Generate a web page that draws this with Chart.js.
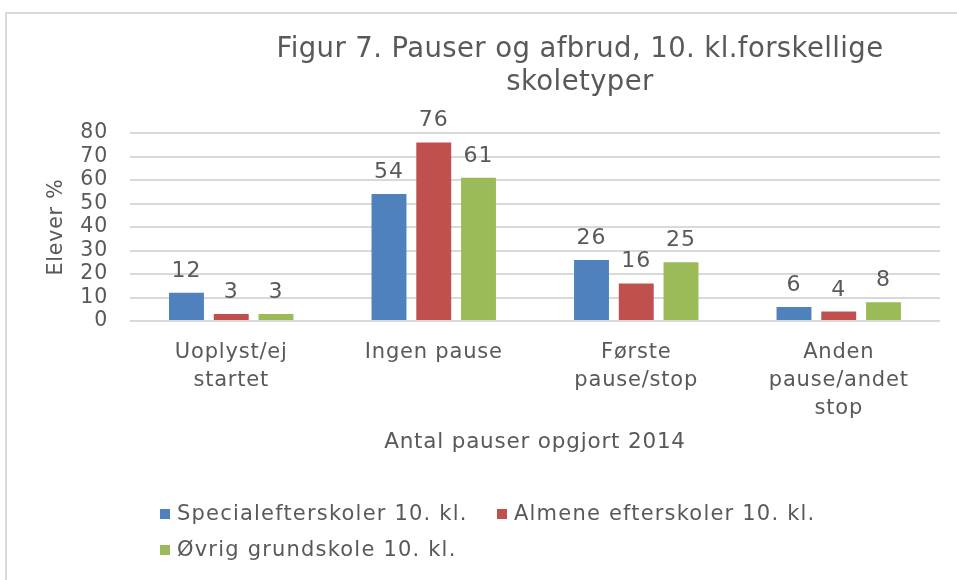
<!DOCTYPE html>
<html>
<head>
<meta charset="utf-8">
<script src="https://cdn.jsdelivr.net/npm/chart.js@4.4.1/dist/chart.umd.min.js"></script>
<style>
  html, body { margin: 0; padding: 0; background: #fff; overflow: hidden; }
  body { width: 957px; height: 580px; position: relative; font-family: "DejaVu Sans", sans-serif; color: #595959; }
  #frame { position: absolute; left: 5px; top: 12px; width: 1000px; height: 1000px; border: 2px solid #d9d9d9; box-sizing: border-box; }
  #wrap { position: absolute; left: 0; top: 0; width: 957px; height: 580px; }
  #title { position: absolute; left: 230px; width: 700px; top: 31px; text-align: center; font-size: 27.5px; line-height: 33px; letter-spacing: 0.4px; color: #595959; white-space: nowrap; }
  .leg { position: absolute; font-size: 21px; line-height: 24px; letter-spacing: 1.2px; color: #595959; white-space: nowrap; }
  .leg span.box { display: inline-block; width: 10px; height: 10px; margin-right: 7px; vertical-align: 1px; }
</style>
</head>
<body>
<div id="frame"></div>
<div id="wrap"><canvas id="c" width="957" height="580"></canvas></div>
<div id="title">Figur 7. Pauser og afbrud, 10. kl.forskellige<br>skoletyper</div>
<div id="legend"></div>
<script>
const categories = [["Uoplyst/ej", "startet"], "Ingen pause", ["Første", "pause/stop"], ["Anden", "pause/andet", "stop"]];
const seriesNames = ["Specialefterskoler 10. kl.", "Almene efterskoler 10. kl.", "Øvrig grundskole 10. kl."];
const specialValues = [12, 54, 26, 6];
const almeneValues = [3, 76, 16, 4];
const oevrigValues = [3, 61, 25, 8];
const seriesColors = ["#4f81bd", "#c0504d", "#9bbb59"];
const yTicks = [0, 10, 20, 30, 40, 50, 60, 70, 80];
const yTitle = "Elever %";
const xTitle = "Antal pauser opgjort 2014";

const seriesValues = [specialValues, almeneValues, oevrigValues];
const textColor = "#595959";
const fontFamily = '"DejaVu Sans", sans-serif';

const spacing = {
  id: 'spacing',
  beforeUpdate(chart) { chart.ctx.letterSpacing = '0.8px'; },
  beforeLayout(chart) { chart.ctx.letterSpacing = '0.8px'; },
  beforeDraw(chart) { chart.ctx.letterSpacing = '0.8px'; }
};

const dataLabels = {
  id: 'dataLabels',
  afterDatasetsDraw(chart) {
    const ctx = chart.ctx;
    ctx.save();
    ctx.font = '22px ' + fontFamily;
    ctx.letterSpacing = '1px';
    ctx.fillStyle = textColor;
    ctx.textAlign = 'center';
    ctx.textBaseline = 'alphabetic';
    chart.data.datasets.forEach((ds, i) => {
      const meta = chart.getDatasetMeta(i);
      meta.data.forEach((el, j) => {
        ctx.fillText(String(ds.data[j]), el.x, el.y - 16);
      });
    });
    ctx.restore();
  }
};

new Chart(document.getElementById('c'), {
  type: 'bar',
  data: {
    labels: categories,
    datasets: seriesNames.map((n, i) => ({
      label: n,
      data: seriesValues[i],
      backgroundColor: seriesColors[i],
      borderWidth: 0,
      categoryPercentage: 0.663,
      barPercentage: 0.78
    }))
  },
  options: {
    responsive: false,
    animation: false,
    devicePixelRatio: 1,
    layout: { padding: { left: 0, right: 17, top: 133, bottom: 110 } },
    plugins: {
      legend: { display: false },
      title: { display: false },
      tooltip: { enabled: false }
    },
    scales: {
      x: {
        grid: { display: false },
        border: { display: false },
        ticks: {
          color: textColor,
          font: { family: fontFamily, size: 21, lineHeight: 1.33 },
          padding: 10,
          maxRotation: 0,
          autoSkip: false
        },
        title: {
          display: true,
          text: xTitle,
          color: textColor,
          font: { family: fontFamily, size: 21.5 },
          padding: { top: 0, bottom: 15 }
        },
        afterFit(scale) { scale.height = 580 - 321 - 110; }
      },
      y: {
        min: 0,
        max: 80,
        afterBuildTicks(scale) { scale.ticks = yTicks.map(v => ({ value: v })); },
        grid: { color: '#d9d9d9', lineWidth: 2, drawTicks: false },
        border: { display: false },
        ticks: {
          color: textColor,
          font: { family: fontFamily, size: 20.5 },
          padding: 22,
          autoSkip: false
        },
        title: {
          display: true,
          text: yTitle,
          color: textColor,
          font: { family: fontFamily, size: 20.5 },
          padding: { top: 44, bottom: 0 }
        },
        afterFit(scale) { scale.width = 130; }
      }
    }
  },
  plugins: [spacing, dataLabels]
});

const legendPos = [[160, 501], [497, 501], [160, 537]];
const legendEl = document.getElementById('legend');
seriesNames.forEach((n, i) => {
  const d = document.createElement('div');
  d.className = 'leg';
  d.style.left = legendPos[i][0] + 'px';
  d.style.top = legendPos[i][1] + 'px';
  const b = document.createElement('span');
  b.className = 'box';
  b.style.background = seriesColors[i];
  d.appendChild(b);
  d.appendChild(document.createTextNode(n));
  legendEl.appendChild(d);
});
</script>
</body>
</html>
